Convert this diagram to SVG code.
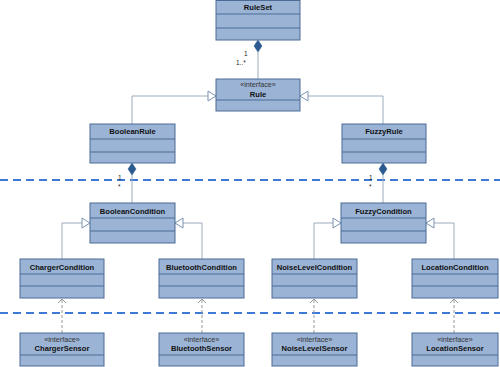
<svg xmlns="http://www.w3.org/2000/svg" width="500" height="367" viewBox="0 0 500 367">
<style>
.box{fill:#9bb4d6;stroke:#4b6b95;stroke-width:1}
.sep{stroke:#4b6b95;stroke-width:1}
.nm{font-family:"Liberation Sans",Arial,sans-serif;font-size:7.6px;font-weight:bold;fill:#111;text-anchor:middle}
.st{font-family:"Liberation Sans",Arial,sans-serif;font-size:7.2px;fill:#333;text-anchor:middle}
.ml{font-family:"Liberation Sans",Arial,sans-serif;font-size:6.5px;fill:#222}
.ln{fill:none;stroke:#9aaabb;stroke-width:1}
.tri{fill:#fff;stroke:#7b93b3;stroke-width:1}
.dia{fill:#2a5a8e;stroke:#2a5a8e;stroke-width:0.5}
.dep{fill:none;stroke:#999;stroke-width:1;stroke-dasharray:3 2}
.arr{fill:none;stroke:#999;stroke-width:1}
.div{stroke:#3d7ad6;stroke-width:1.8;stroke-dasharray:8 5}
</style>
<g id="dividers">
<line class="div" x1="0" y1="180" x2="500" y2="180"/>
<line class="div" x1="0" y1="313" x2="500" y2="313"/>
</g>
<g id="connectors">
<line class="ln" x1="258" y1="52" x2="258" y2="79"/>
<polygon class="dia" points="258,40 262,46 258,52 254,46"/>
<text class="ml" x="244" y="56">1</text>
<text class="ml" x="236" y="65">1..*</text>
<polyline class="ln" points="132,124 132,96 208,96"/>
<polygon class="tri" points="208,91 216,96 208,101"/>
<polyline class="ln" points="383,124 383,96 308,96"/>
<polygon class="tri" points="308,91 300,96 308,101"/>
<line class="ln" x1="132" y1="175" x2="132" y2="203"/>
<polygon class="dia" points="132,163 136,169 132,175 128,169"/>
<text class="ml" x="118" y="180">1</text>
<text class="ml" x="118" y="189">*</text>
<line class="ln" x1="383" y1="175" x2="383" y2="203"/>
<polygon class="dia" points="383,163 387,169 383,175 379,169"/>
<text class="ml" x="369" y="180">1</text>
<text class="ml" x="369" y="189">*</text>
<polyline class="ln" points="62,259 62,223 82,223"/>
<polygon class="tri" points="82,218 90,223 82,228"/>
<polyline class="ln" points="202,259 202,223 183,223"/>
<polygon class="tri" points="183,218 175,223 183,228"/>
<polyline class="ln" points="314,259 314,223 333,223"/>
<polygon class="tri" points="333,218 341,223 333,228"/>
<polyline class="ln" points="454,259 454,223 434,223"/>
<polygon class="tri" points="434,218 426,223 434,228"/>
<line class="dep" x1="62" y1="333" x2="62" y2="299"/>
<polyline class="arr" points="58,303 62,299 66,303"/>
<line class="dep" x1="202" y1="333" x2="202" y2="299"/>
<polyline class="arr" points="198,303 202,299 206,303"/>
<line class="dep" x1="314" y1="333" x2="314" y2="299"/>
<polyline class="arr" points="310,303 314,299 318,303"/>
<line class="dep" x1="454" y1="333" x2="454" y2="299"/>
<polyline class="arr" points="450,303 454,299 458,303"/>
</g>
<g id="RuleSet">
<rect class="box" x="216" y="0.5" width="84" height="39.5"/>
<line class="sep" x1="216" y1="14" x2="300" y2="14"/>
<line class="sep" x1="216" y1="28" x2="300" y2="28"/>
<text class="nm" x="258" y="10">RuleSet</text>
</g>
<g id="Rule">
<rect class="box" x="216" y="79" width="84" height="32"/>
<line class="sep" x1="216" y1="100" x2="300" y2="100"/>
<text class="st" x="258" y="87">«interface»</text>
<text class="nm" x="258" y="97">Rule</text>
</g>
<g id="BooleanRule">
<rect class="box" x="90" y="124" width="85" height="39"/>
<line class="sep" x1="90" y1="139" x2="175" y2="139"/>
<line class="sep" x1="90" y1="152" x2="175" y2="152"/>
<text class="nm" x="132.5" y="134">BooleanRule</text>
</g>
<g id="FuzzyRule">
<rect class="box" x="342" y="124" width="84" height="39"/>
<line class="sep" x1="342" y1="139" x2="426" y2="139"/>
<line class="sep" x1="342" y1="152" x2="426" y2="152"/>
<text class="nm" x="384" y="134">FuzzyRule</text>
</g>
<g id="BooleanCondition">
<rect class="box" x="90" y="203" width="85" height="40"/>
<line class="sep" x1="90" y1="218" x2="175" y2="218"/>
<line class="sep" x1="90" y1="231" x2="175" y2="231"/>
<text class="nm" x="132.5" y="213.5">BooleanCondition</text>
</g>
<g id="FuzzyCondition">
<rect class="box" x="341" y="203" width="85" height="40"/>
<line class="sep" x1="341" y1="218" x2="426" y2="218"/>
<line class="sep" x1="341" y1="231" x2="426" y2="231"/>
<text class="nm" x="383.5" y="213.5">FuzzyCondition</text>
</g>
<g id="ChargerCondition">
<rect class="box" x="20" y="259" width="84" height="39"/>
<line class="sep" x1="20" y1="274" x2="104" y2="274"/>
<line class="sep" x1="20" y1="286" x2="104" y2="286"/>
<text class="nm" x="62" y="269.5">ChargerCondition</text>
</g>
<g id="BluetoothCondition">
<rect class="box" x="159" y="259" width="85" height="39"/>
<line class="sep" x1="159" y1="274" x2="244" y2="274"/>
<line class="sep" x1="159" y1="286" x2="244" y2="286"/>
<text class="nm" x="201.5" y="269.5">BluetoothCondition</text>
</g>
<g id="NoiseLevelCondition">
<rect class="box" x="272" y="259" width="85" height="39"/>
<line class="sep" x1="272" y1="274" x2="357" y2="274"/>
<line class="sep" x1="272" y1="286" x2="357" y2="286"/>
<text class="nm" x="314.5" y="269.5">NoiseLevelCondition</text>
</g>
<g id="LocationCondition">
<rect class="box" x="412" y="259" width="86" height="39"/>
<line class="sep" x1="412" y1="274" x2="498" y2="274"/>
<line class="sep" x1="412" y1="286" x2="498" y2="286"/>
<text class="nm" x="455" y="269.5">LocationCondition</text>
</g>
<g id="ChargerSensor">
<rect class="box" x="20" y="333" width="84" height="33"/>
<line class="sep" x1="20" y1="355" x2="104" y2="355"/>
<text class="st" x="62" y="341.5">«interface»</text>
<text class="nm" x="62" y="351">ChargerSensor</text>
</g>
<g id="BluetoothSensor">
<rect class="box" x="159" y="333" width="85" height="33"/>
<line class="sep" x1="159" y1="355" x2="244" y2="355"/>
<text class="st" x="201.5" y="341.5">«interface»</text>
<text class="nm" x="201.5" y="351">BluetoothSensor</text>
</g>
<g id="NoiseLevelSensor">
<rect class="box" x="272" y="333" width="85" height="33"/>
<line class="sep" x1="272" y1="355" x2="357" y2="355"/>
<text class="st" x="314.5" y="341.5">«interface»</text>
<text class="nm" x="314.5" y="351">NoiseLevelSensor</text>
</g>
<g id="LocationSensor">
<rect class="box" x="412" y="333" width="86" height="33"/>
<line class="sep" x1="412" y1="355" x2="498" y2="355"/>
<text class="st" x="455" y="341.5">«interface»</text>
<text class="nm" x="455" y="351">LocationSensor</text>
</g>
</svg>
